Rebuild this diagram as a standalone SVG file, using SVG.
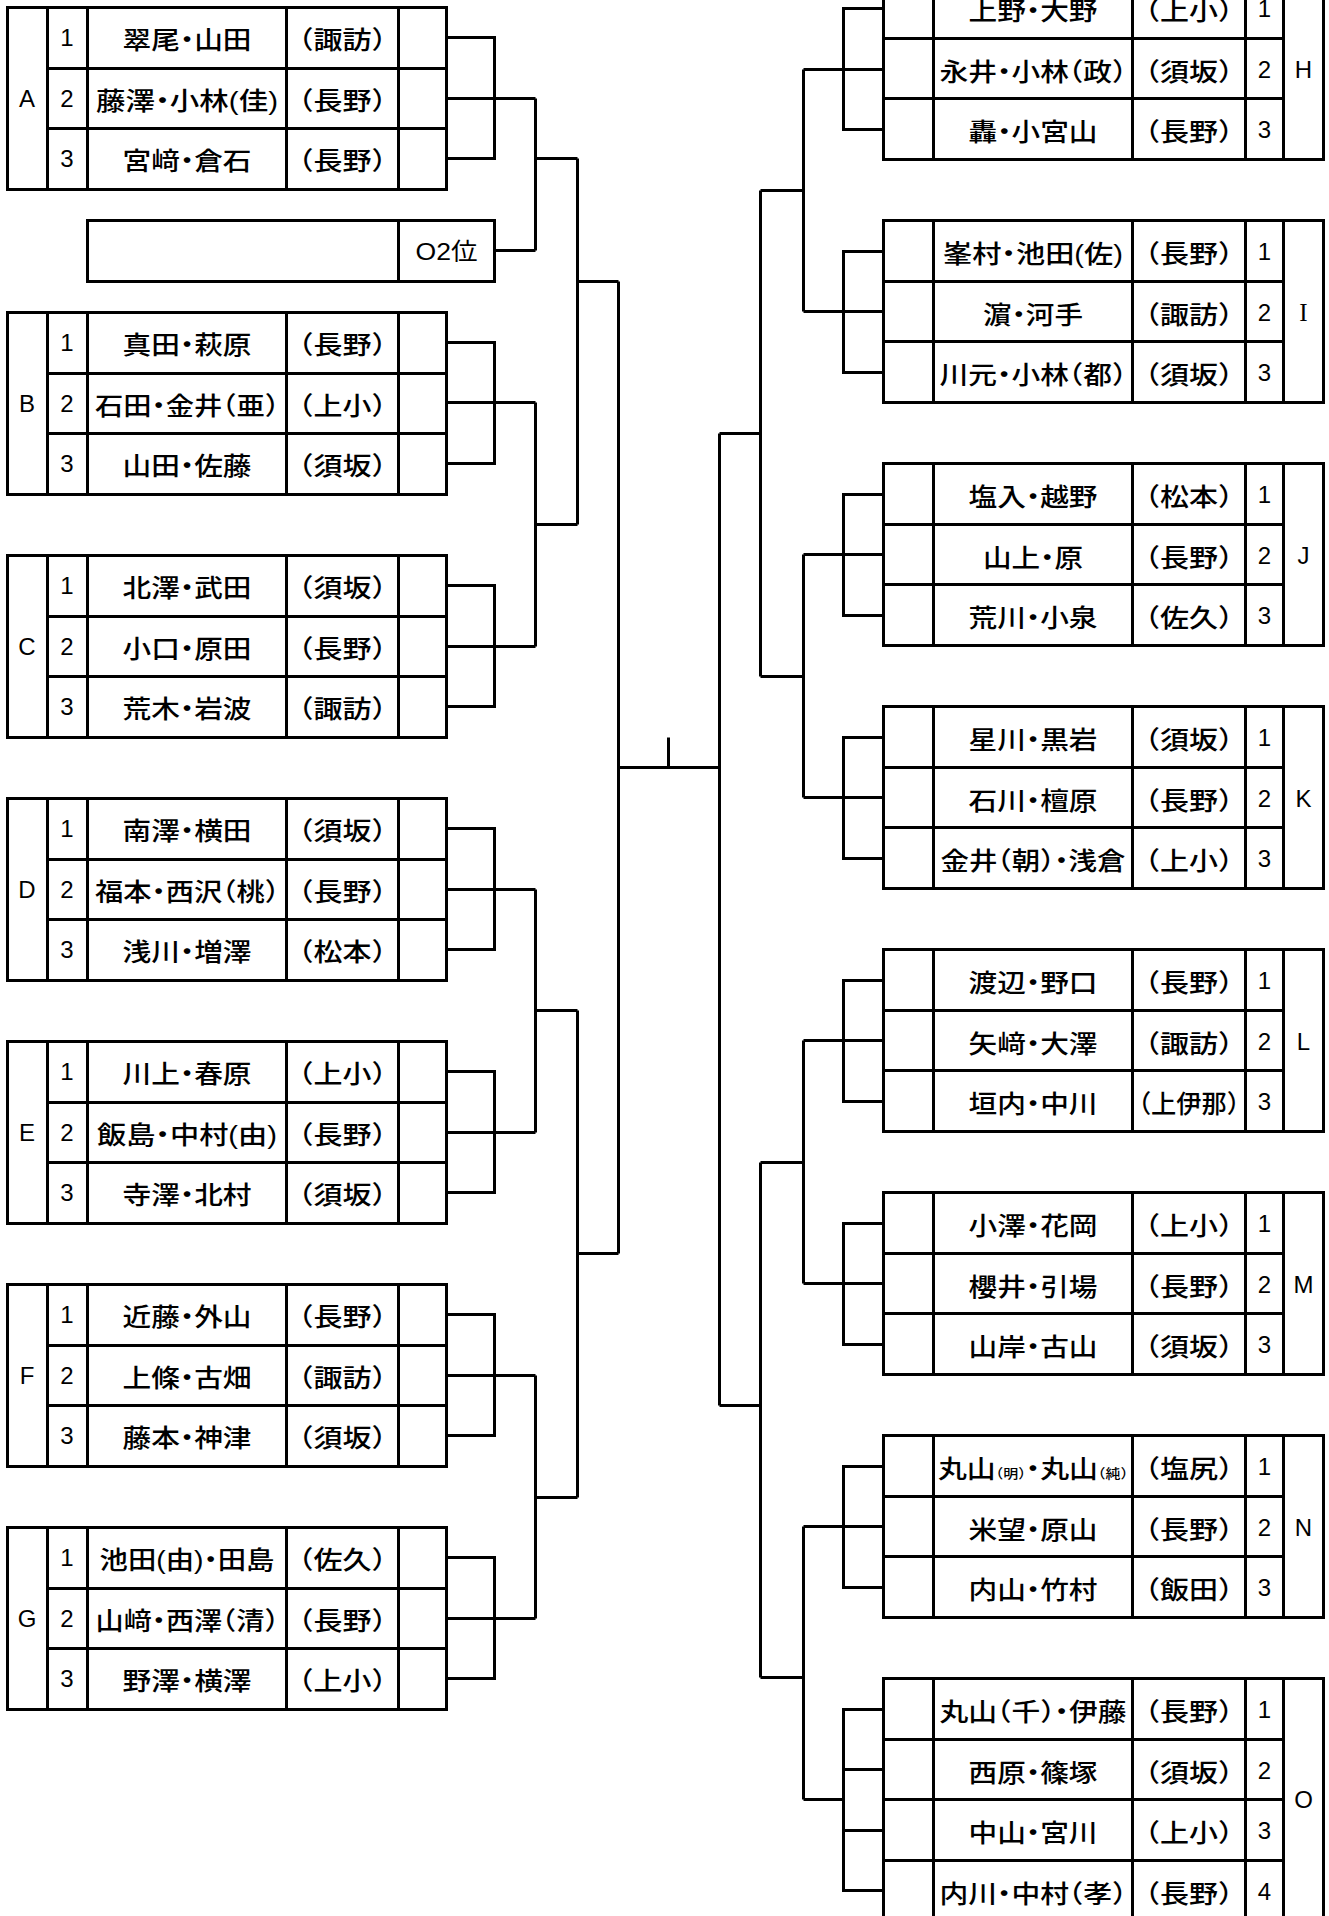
<svg xmlns="http://www.w3.org/2000/svg" xmlns:xlink="http://www.w3.org/1999/xlink" width="1329" height="1916" viewBox="0 0 1329 1916">
<style>
.ln{fill:none;stroke:#000;stroke-width:3}
.nm{font-family:"Liberation Sans","Noto Sans CJK JP",sans-serif;font-size:25px;font-weight:500;text-anchor:middle;font-feature-settings:"halt";fill:#000}
.n{font-family:"Liberation Sans","Noto Sans CJK JP",sans-serif;font-size:24px;text-anchor:middle;fill:#000}
.sr{font-family:"Liberation Serif",serif;font-size:25px;text-anchor:middle;fill:#000}
.sm{font-size:13px}
</style>
<defs>
<g id="tL" class="ln"><rect x="7.5" y="0" width="439" height="182"/><path d="M47.5 0V182M87.5 0V182M286.5 0V182M398.5 0V182M47.5 61H446.5M47.5 121H446.5"/></g>
<g id="tR" class="ln"><rect x="883.5" y="0" width="440" height="182"/><path d="M933.5 0V182M1132.5 0V182M1245.5 0V182M1283.5 0V182M883.5 61H1283.5M883.5 121H1283.5"/></g>
<g id="tR4" class="ln"><rect x="883.5" y="0" width="440" height="243"/><path d="M933.5 0V243M1132.5 0V243M1245.5 0V243M1283.5 0V243M883.5 61H1283.5M883.5 121H1283.5M883.5 182H1283.5"/></g>
</defs>
<rect width="1329" height="1916" fill="#fff"/>

<g id="group-A">
<use xlink:href="#tL" href="#tL" y="7.5"/>
<text class="n" x="27" y="106.5">A</text>
<text class="n" x="67" y="46">1</text><text class="n" x="67" y="106.5">2</text><text class="n" x="67" y="167">3</text>
<text class="nm" x="187" y="48.5" textLength="129" lengthAdjust="spacingAndGlyphs">翠尾・山田</text>
<text class="nm" x="187" y="109.5" textLength="182" lengthAdjust="spacingAndGlyphs">藤澤・小林(佳)</text>
<text class="nm" x="187" y="169.5" textLength="129" lengthAdjust="spacingAndGlyphs">宮﨑・倉石</text>
<text class="nm" x="342.5" y="48.5" textLength="87" lengthAdjust="spacingAndGlyphs">（諏訪）</text>
<text class="nm" x="342.5" y="109.5" textLength="87" lengthAdjust="spacingAndGlyphs">（長野）</text>
<text class="nm" x="342.5" y="169.5" textLength="87" lengthAdjust="spacingAndGlyphs">（長野）</text>
</g>

<g id="slot-O2">
<rect class="ln" x="87.5" y="220.5" width="407" height="61"/>
<path class="ln" d="M398.5 220.5V281.5"/>
<text class="n" x="446.5" y="259.5" textLength="62" lengthAdjust="spacingAndGlyphs">O2位</text>
</g>

<g id="group-B">
<use xlink:href="#tL" href="#tL" y="312.5"/>
<text class="n" x="27" y="411.5">B</text>
<text class="n" x="67" y="351">1</text><text class="n" x="67" y="411.5">2</text><text class="n" x="67" y="472">3</text>
<text class="nm" x="187" y="353.5" textLength="129" lengthAdjust="spacingAndGlyphs">真田・萩原</text>
<text class="nm" x="187" y="414.5" textLength="184" lengthAdjust="spacingAndGlyphs">石田・金井（亜）</text>
<text class="nm" x="187" y="474.5" textLength="129" lengthAdjust="spacingAndGlyphs">山田・佐藤</text>
<text class="nm" x="342.5" y="353.5" textLength="87" lengthAdjust="spacingAndGlyphs">（長野）</text>
<text class="nm" x="342.5" y="414.5" textLength="87" lengthAdjust="spacingAndGlyphs">（上小）</text>
<text class="nm" x="342.5" y="474.5" textLength="87" lengthAdjust="spacingAndGlyphs">（須坂）</text>
</g>

<g id="group-C">
<use xlink:href="#tL" href="#tL" y="555.5"/>
<text class="n" x="27" y="654.5">C</text>
<text class="n" x="67" y="594">1</text><text class="n" x="67" y="654.5">2</text><text class="n" x="67" y="715">3</text>
<text class="nm" x="187" y="596.5" textLength="129" lengthAdjust="spacingAndGlyphs">北澤・武田</text>
<text class="nm" x="187" y="657.5" textLength="129" lengthAdjust="spacingAndGlyphs">小口・原田</text>
<text class="nm" x="187" y="717.5" textLength="129" lengthAdjust="spacingAndGlyphs">荒木・岩波</text>
<text class="nm" x="342.5" y="596.5" textLength="87" lengthAdjust="spacingAndGlyphs">（須坂）</text>
<text class="nm" x="342.5" y="657.5" textLength="87" lengthAdjust="spacingAndGlyphs">（長野）</text>
<text class="nm" x="342.5" y="717.5" textLength="87" lengthAdjust="spacingAndGlyphs">（諏訪）</text>
</g>

<g id="group-D">
<use xlink:href="#tL" href="#tL" y="798.5"/>
<text class="n" x="27" y="897.5">D</text>
<text class="n" x="67" y="837">1</text><text class="n" x="67" y="897.5">2</text><text class="n" x="67" y="958">3</text>
<text class="nm" x="187" y="839.5" textLength="129" lengthAdjust="spacingAndGlyphs">南澤・横田</text>
<text class="nm" x="187" y="900.5" textLength="184" lengthAdjust="spacingAndGlyphs">福本・西沢（桃）</text>
<text class="nm" x="187" y="960.5" textLength="129" lengthAdjust="spacingAndGlyphs">浅川・増澤</text>
<text class="nm" x="342.5" y="839.5" textLength="87" lengthAdjust="spacingAndGlyphs">（須坂）</text>
<text class="nm" x="342.5" y="900.5" textLength="87" lengthAdjust="spacingAndGlyphs">（長野）</text>
<text class="nm" x="342.5" y="960.5" textLength="87" lengthAdjust="spacingAndGlyphs">（松本）</text>
</g>

<g id="group-E">
<use xlink:href="#tL" href="#tL" y="1041.5"/>
<text class="n" x="27" y="1140.5">E</text>
<text class="n" x="67" y="1080">1</text><text class="n" x="67" y="1140.5">2</text><text class="n" x="67" y="1201">3</text>
<text class="nm" x="187" y="1082.5" textLength="129" lengthAdjust="spacingAndGlyphs">川上・春原</text>
<text class="nm" x="187" y="1143.5" textLength="180" lengthAdjust="spacingAndGlyphs">飯島・中村(由)</text>
<text class="nm" x="187" y="1203.5" textLength="129" lengthAdjust="spacingAndGlyphs">寺澤・北村</text>
<text class="nm" x="342.5" y="1082.5" textLength="87" lengthAdjust="spacingAndGlyphs">（上小）</text>
<text class="nm" x="342.5" y="1143.5" textLength="87" lengthAdjust="spacingAndGlyphs">（長野）</text>
<text class="nm" x="342.5" y="1203.5" textLength="87" lengthAdjust="spacingAndGlyphs">（須坂）</text>
</g>

<g id="group-F">
<use xlink:href="#tL" href="#tL" y="1284.5"/>
<text class="n" x="27" y="1383.5">F</text>
<text class="n" x="67" y="1323">1</text><text class="n" x="67" y="1383.5">2</text><text class="n" x="67" y="1444">3</text>
<text class="nm" x="187" y="1325.5" textLength="129" lengthAdjust="spacingAndGlyphs">近藤・外山</text>
<text class="nm" x="187" y="1386.5" textLength="129" lengthAdjust="spacingAndGlyphs">上條・古畑</text>
<text class="nm" x="187" y="1446.5" textLength="129" lengthAdjust="spacingAndGlyphs">藤本・神津</text>
<text class="nm" x="342.5" y="1325.5" textLength="87" lengthAdjust="spacingAndGlyphs">（長野）</text>
<text class="nm" x="342.5" y="1386.5" textLength="87" lengthAdjust="spacingAndGlyphs">（諏訪）</text>
<text class="nm" x="342.5" y="1446.5" textLength="87" lengthAdjust="spacingAndGlyphs">（須坂）</text>
</g>

<g id="group-G">
<use xlink:href="#tL" href="#tL" y="1527.5"/>
<text class="n" x="27" y="1626.5">G</text>
<text class="n" x="67" y="1566">1</text><text class="n" x="67" y="1626.5">2</text><text class="n" x="67" y="1687">3</text>
<text class="nm" x="187" y="1568.5" textLength="175" lengthAdjust="spacingAndGlyphs">池田(由)・田島</text>
<text class="nm" x="187" y="1629.5" textLength="183" lengthAdjust="spacingAndGlyphs">山﨑・西澤（清）</text>
<text class="nm" x="187" y="1689.5" textLength="129" lengthAdjust="spacingAndGlyphs">野澤・横澤</text>
<text class="nm" x="342.5" y="1568.5" textLength="87" lengthAdjust="spacingAndGlyphs">（佐久）</text>
<text class="nm" x="342.5" y="1629.5" textLength="87" lengthAdjust="spacingAndGlyphs">（長野）</text>
<text class="nm" x="342.5" y="1689.5" textLength="87" lengthAdjust="spacingAndGlyphs">（上小）</text>
</g>

<g id="group-H">
<use xlink:href="#tR" href="#tR" y="-22.5"/>
<text class="n" x="1303.5" y="77.5">H</text>
<text class="n" x="1264.5" y="17">1</text><text class="n" x="1264.5" y="77.5">2</text><text class="n" x="1264.5" y="138">3</text>
<text class="nm" x="1033" y="19.5" textLength="129" lengthAdjust="spacingAndGlyphs">上野・大野</text>
<text class="nm" x="1033" y="80.5" textLength="187" lengthAdjust="spacingAndGlyphs">永井・小林（政）</text>
<text class="nm" x="1033" y="140.5" textLength="129" lengthAdjust="spacingAndGlyphs">轟・小宮山</text>
<text class="nm" x="1189" y="19.5" textLength="87" lengthAdjust="spacingAndGlyphs">（上小）</text>
<text class="nm" x="1189" y="80.5" textLength="87" lengthAdjust="spacingAndGlyphs">（須坂）</text>
<text class="nm" x="1189" y="140.5" textLength="87" lengthAdjust="spacingAndGlyphs">（長野）</text>
</g>

<g id="group-I">
<use xlink:href="#tR" href="#tR" y="220.5"/>
<text class="sr" x="1303.5" y="320.5">I</text>
<text class="n" x="1264.5" y="260">1</text><text class="n" x="1264.5" y="320.5">2</text><text class="n" x="1264.5" y="381">3</text>
<text class="nm" x="1033" y="262.5" textLength="180" lengthAdjust="spacingAndGlyphs">峯村・池田(佐)</text>
<text class="nm" x="1033" y="323.5" textLength="100" lengthAdjust="spacingAndGlyphs">濵・河手</text>
<text class="nm" x="1033" y="383.5" textLength="187" lengthAdjust="spacingAndGlyphs">川元・小林（都）</text>
<text class="nm" x="1189" y="262.5" textLength="87" lengthAdjust="spacingAndGlyphs">（長野）</text>
<text class="nm" x="1189" y="323.5" textLength="87" lengthAdjust="spacingAndGlyphs">（諏訪）</text>
<text class="nm" x="1189" y="383.5" textLength="87" lengthAdjust="spacingAndGlyphs">（須坂）</text>
</g>

<g id="group-J">
<use xlink:href="#tR" href="#tR" y="463.5"/>
<text class="n" x="1303.5" y="563.5">J</text>
<text class="n" x="1264.5" y="503">1</text><text class="n" x="1264.5" y="563.5">2</text><text class="n" x="1264.5" y="624">3</text>
<text class="nm" x="1033" y="505.5" textLength="129" lengthAdjust="spacingAndGlyphs">塩入・越野</text>
<text class="nm" x="1033" y="566.5" textLength="100" lengthAdjust="spacingAndGlyphs">山上・原</text>
<text class="nm" x="1033" y="626.5" textLength="129" lengthAdjust="spacingAndGlyphs">荒川・小泉</text>
<text class="nm" x="1189" y="505.5" textLength="87" lengthAdjust="spacingAndGlyphs">（松本）</text>
<text class="nm" x="1189" y="566.5" textLength="87" lengthAdjust="spacingAndGlyphs">（長野）</text>
<text class="nm" x="1189" y="626.5" textLength="87" lengthAdjust="spacingAndGlyphs">（佐久）</text>
</g>

<g id="group-K">
<use xlink:href="#tR" href="#tR" y="706.5"/>
<text class="n" x="1303.5" y="806.5">K</text>
<text class="n" x="1264.5" y="746">1</text><text class="n" x="1264.5" y="806.5">2</text><text class="n" x="1264.5" y="867">3</text>
<text class="nm" x="1033" y="748.5" textLength="129" lengthAdjust="spacingAndGlyphs">星川・黒岩</text>
<text class="nm" x="1033" y="809.5" textLength="129" lengthAdjust="spacingAndGlyphs">石川・檀原</text>
<text class="nm" x="1033" y="869.5" textLength="185" lengthAdjust="spacingAndGlyphs">金井（朝）・浅倉</text>
<text class="nm" x="1189" y="748.5" textLength="87" lengthAdjust="spacingAndGlyphs">（須坂）</text>
<text class="nm" x="1189" y="809.5" textLength="87" lengthAdjust="spacingAndGlyphs">（長野）</text>
<text class="nm" x="1189" y="869.5" textLength="87" lengthAdjust="spacingAndGlyphs">（上小）</text>
</g>

<g id="group-L">
<use xlink:href="#tR" href="#tR" y="949.5"/>
<text class="n" x="1303.5" y="1049.5">L</text>
<text class="n" x="1264.5" y="989">1</text><text class="n" x="1264.5" y="1049.5">2</text><text class="n" x="1264.5" y="1110">3</text>
<text class="nm" x="1033" y="991.5" textLength="129" lengthAdjust="spacingAndGlyphs">渡辺・野口</text>
<text class="nm" x="1033" y="1052.5" textLength="129" lengthAdjust="spacingAndGlyphs">矢﨑・大澤</text>
<text class="nm" x="1033" y="1112.5" textLength="129" lengthAdjust="spacingAndGlyphs">垣内・中川</text>
<text class="nm" x="1189" y="991.5" textLength="87" lengthAdjust="spacingAndGlyphs">（長野）</text>
<text class="nm" x="1189" y="1052.5" textLength="87" lengthAdjust="spacingAndGlyphs">（諏訪）</text>
<text class="nm" x="1189" y="1112.5" textLength="101" lengthAdjust="spacingAndGlyphs">（上伊那）</text>
</g>

<g id="group-M">
<use xlink:href="#tR" href="#tR" y="1192.5"/>
<text class="n" x="1303.5" y="1292.5">M</text>
<text class="n" x="1264.5" y="1232">1</text><text class="n" x="1264.5" y="1292.5">2</text><text class="n" x="1264.5" y="1353">3</text>
<text class="nm" x="1033" y="1234.5" textLength="129" lengthAdjust="spacingAndGlyphs">小澤・花岡</text>
<text class="nm" x="1033" y="1295.5" textLength="129" lengthAdjust="spacingAndGlyphs">櫻井・引場</text>
<text class="nm" x="1033" y="1355.5" textLength="129" lengthAdjust="spacingAndGlyphs">山岸・古山</text>
<text class="nm" x="1189" y="1234.5" textLength="87" lengthAdjust="spacingAndGlyphs">（上小）</text>
<text class="nm" x="1189" y="1295.5" textLength="87" lengthAdjust="spacingAndGlyphs">（長野）</text>
<text class="nm" x="1189" y="1355.5" textLength="87" lengthAdjust="spacingAndGlyphs">（須坂）</text>
</g>

<g id="group-N">
<use xlink:href="#tR" href="#tR" y="1435.5"/>
<text class="n" x="1303.5" y="1535.5">N</text>
<text class="n" x="1264.5" y="1475">1</text><text class="n" x="1264.5" y="1535.5">2</text><text class="n" x="1264.5" y="1596">3</text>
<text class="nm" x="1033" y="1477.5" textLength="190" lengthAdjust="spacingAndGlyphs">丸山<tspan class="sm">（明）</tspan>・丸山<tspan class="sm">（純）</tspan></text>
<text class="nm" x="1033" y="1538.5" textLength="129" lengthAdjust="spacingAndGlyphs">米望・原山</text>
<text class="nm" x="1033" y="1598.5" textLength="129" lengthAdjust="spacingAndGlyphs">内山・竹村</text>
<text class="nm" x="1189" y="1477.5" textLength="87" lengthAdjust="spacingAndGlyphs">（塩尻）</text>
<text class="nm" x="1189" y="1538.5" textLength="87" lengthAdjust="spacingAndGlyphs">（長野）</text>
<text class="nm" x="1189" y="1598.5" textLength="87" lengthAdjust="spacingAndGlyphs">（飯田）</text>
</g>

<g id="group-O">
<use xlink:href="#tR4" href="#tR4" y="1678.5"/>
<text class="n" x="1303.5" y="1808">O</text>
<text class="n" x="1264.5" y="1718">1</text><text class="n" x="1264.5" y="1778.5">2</text><text class="n" x="1264.5" y="1839">3</text><text class="n" x="1264.5" y="1899.5">4</text>
<text class="nm" x="1033" y="1720.5" textLength="187" lengthAdjust="spacingAndGlyphs">丸山（千）・伊藤</text>
<text class="nm" x="1033" y="1781.5" textLength="129" lengthAdjust="spacingAndGlyphs">西原・篠塚</text>
<text class="nm" x="1033" y="1841.5" textLength="129" lengthAdjust="spacingAndGlyphs">中山・宮川</text>
<text class="nm" x="1033" y="1902.5" textLength="187" lengthAdjust="spacingAndGlyphs">内川・中村（孝）</text>
<text class="nm" x="1189" y="1720.5" textLength="87" lengthAdjust="spacingAndGlyphs">（長野）</text>
<text class="nm" x="1189" y="1781.5" textLength="87" lengthAdjust="spacingAndGlyphs">（須坂）</text>
<text class="nm" x="1189" y="1841.5" textLength="87" lengthAdjust="spacingAndGlyphs">（上小）</text>
<text class="nm" x="1189" y="1902.5" textLength="87" lengthAdjust="spacingAndGlyphs">（長野）</text>
</g>

<g id="connectors" class="ln">
<path d="M446.5 37.5H494.5V158.5H446.5M446.5 98.5H535.5M494.5 250.5H535.5M535.5 98.5V250.5M535.5 158.5H577.5"/>
<path d="M446.5 342.5H494.5V463.5H446.5M446.5 402.5H535.5"/>
<path d="M446.5 585.5H494.5V706.5H446.5M446.5 646.5H535.5"/>
<path d="M535.5 402.5V646.5M535.5 524.5H577.5M577.5 158.5V524.5M577.5 281.5H618.5"/>
<path d="M446.5 828.5H494.5V949.5H446.5M446.5 889.5H535.5"/>
<path d="M446.5 1071.5H494.5V1192.5H446.5M446.5 1132.5H535.5"/>
<path d="M535.5 889.5V1132.5M535.5 1010.5H577.5"/>
<path d="M446.5 1314.5H494.5V1435.5H446.5M446.5 1375.5H535.5"/>
<path d="M446.5 1557.5H494.5V1678.5H446.5M446.5 1618.5H535.5"/>
<path d="M535.5 1375.5V1618.5M535.5 1497.5H577.5"/>
<path d="M577.5 1010.5V1497.5M577.5 1253.5H618.5M618.5 281.5V1253.5"/>
<path d="M618.5 767.5H719.5M668.5 737.5V767.5M719.5 433.5V1405.5"/>
<path d="M883.5 8.5H843.5V129.5H883.5M883.5 69.5H803.5"/>
<path d="M883.5 251.5H843.5V372.5H883.5M883.5 311.5H803.5"/>
<path d="M803.5 69.5V311.5M803.5 190.5H760.5"/>
<path d="M883.5 494.5H843.5V615.5H883.5M883.5 554.5H803.5"/>
<path d="M883.5 737.5H843.5V858.5H883.5M883.5 797.5H803.5"/>
<path d="M803.5 554.5V797.5M803.5 676.5H760.5M760.5 190.5V676.5M760.5 433.5H719.5"/>
<path d="M883.5 980.5H843.5V1101.5H883.5M883.5 1040.5H803.5"/>
<path d="M883.5 1223.5H843.5V1344.5H883.5M883.5 1283.5H803.5"/>
<path d="M803.5 1040.5V1283.5M803.5 1162.5H760.5"/>
<path d="M883.5 1466.5H843.5V1587.5H883.5M883.5 1526.5H803.5"/>
<path d="M883.5 1709.5H843.5V1890.5H883.5M843.5 1769.5H883.5M843.5 1830.5H883.5M843.5 1799.5H803.5"/>
<path d="M803.5 1526.5V1799.5M803.5 1677.5H760.5M760.5 1162.5V1677.5M760.5 1405.5H719.5"/>
</g>
</svg>
